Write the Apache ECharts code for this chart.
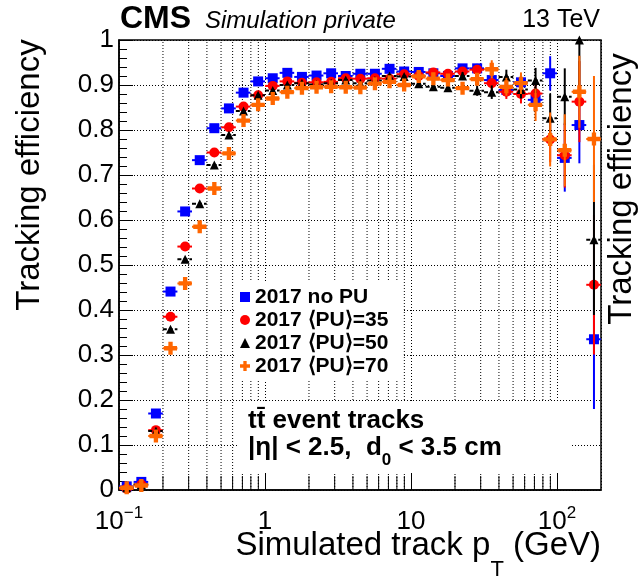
<!DOCTYPE html>
<html><head><meta charset="utf-8">
<script src="https://cdn.jsdelivr.net/npm/echarts@6/dist/echarts.min.js"></script>
<style>html,body{margin:0;padding:0;background:#fff}#c{width:642px;height:577px}</style>
</head><body><div id="c"></div>
<script>
// pT bin edges (GeV)
const ptEdges = [0.1, 0.1259, 0.1585, 0.1995, 0.2512, 0.3162, 0.3981, 0.5012, 0.631, 0.7943,
  1, 1.259, 1.585, 1.995, 2.512, 3.162, 3.981, 5.012, 6.31, 7.943,
  10, 12.59, 15.85, 19.95, 25.12, 31.62, 39.81, 50.12, 63.1, 79.43,
  100, 125.9, 158.5, 199.5];

const seriesNames = ['2017 no PU', '2017 \u27E8PU\u27E9=35', '2017 \u27E8PU\u27E9=50', '2017 \u27E8PU\u27E9=70'];

const effNoPU = [0.008, 0.018, 0.170, 0.441, 0.619, 0.733, 0.804, 0.848, 0.883, 0.908,
  0.915, 0.927, 0.918, 0.921, 0.926, 0.920, 0.925, 0.925, 0.936, 0.930,
  0.929, 0.926, 0.920, 0.937, 0.937, 0.911, 0.889, 0.906, 0.867, 0.926,
  0.738, 0.811, 0.335];
const errNoPU = [0.002, 0.003, 0.004, 0.004, 0.004, 0.003, 0.003, 0.003, 0.003, 0.003,
  0.003, 0.003, 0.003, 0.003, 0.003, 0.003, 0.003, 0.004, 0.004, 0.004,
  0.005, 0.006, 0.007, 0.008, 0.010, 0.012, 0.014, 0.016, 0.020, 0.038,
  0.075, 0.085, 0.155];

const effPU35 = [0.003, 0.012, 0.133, 0.385, 0.541, 0.670, 0.750, 0.806, 0.852, 0.877,
  0.898, 0.908, 0.905, 0.906, 0.907, 0.915, 0.914, 0.915, 0.914, 0.924,
  0.920, 0.928, 0.925, 0.930, 0.934, 0.904, 0.885, 0.880, 0.881, 0.779,
  0.744, 0.863, 0.456];
const errPU35 = [0.002, 0.003, 0.004, 0.004, 0.004, 0.003, 0.003, 0.003, 0.003, 0.003,
  0.003, 0.003, 0.003, 0.003, 0.003, 0.003, 0.003, 0.004, 0.004, 0.004,
  0.005, 0.006, 0.007, 0.008, 0.010, 0.013, 0.016, 0.021, 0.025, 0.050,
  0.072, 0.090, 0.155];

const effPU50 = [0.005, 0.012, 0.131, 0.357, 0.513, 0.636, 0.722, 0.789, 0.842, 0.877,
  0.888, 0.900, 0.904, 0.901, 0.904, 0.911, 0.904, 0.910, 0.920, 0.919,
  0.903, 0.896, 0.894, 0.920, 0.887, 0.884, 0.918, 0.890, 0.910, 0.826,
  0.874, 1.000, 0.556];
const errPU50 = [0.002, 0.003, 0.004, 0.004, 0.004, 0.003, 0.003, 0.003, 0.003, 0.003,
  0.003, 0.003, 0.003, 0.003, 0.003, 0.003, 0.003, 0.004, 0.004, 0.004,
  0.006, 0.007, 0.008, 0.009, 0.011, 0.015, 0.016, 0.020, 0.028, 0.055,
  0.063, 0.120, 0.167];

const effPU70 = [0.005, 0.010, 0.120, 0.315, 0.459, 0.585, 0.670, 0.748, 0.821, 0.856,
  0.870, 0.884, 0.893, 0.895, 0.896, 0.895, 0.894, 0.903, 0.907, 0.900,
  0.919, 0.914, 0.911, 0.893, 0.913, 0.935, 0.896, 0.904, 0.856, 0.779,
  0.755, 0.885, 0.780];
const errPU70 = [0.002, 0.003, 0.004, 0.004, 0.004, 0.003, 0.003, 0.003, 0.003, 0.003,
  0.003, 0.003, 0.003, 0.003, 0.003, 0.003, 0.003, 0.004, 0.004, 0.004,
  0.006, 0.007, 0.008, 0.010, 0.012, 0.020, 0.020, 0.024, 0.036, 0.060,
  0.080, 0.080, 0.140];

// minor x ticks / grid positions (log axis)
const xMinorTicks = [0.2, 0.3, 0.4, 0.5, 0.6, 0.7, 0.8, 0.9,
  2, 3, 4, 5, 6, 7, 8, 9, 20, 30, 40, 50, 60, 70, 80, 90];

const FONT = "'Liberation Sans', Arial, Helvetica, sans-serif";
const colors = ['#0000ff', '#ff0000', '#000000', '#ff6600'];
const crossPath = 'path://M4,0H8V4H12V8H8V12H4V8H0V4H4Z';
const symbols = ['rect', 'circle', 'triangle', crossPath];
const symbolSizes = [10, 10, 9, 13];
const dashes = [null, null, [4, 2], null];
const effs = [effNoPU, effPU35, effPU50, effPU70];
const errs = [errNoPU, errPU35, errPU50, errPU70];

function points(eff, err) {
  return eff.map((v, i) => {
    const lo = ptEdges[i], hi = ptEdges[i + 1];
    return [(lo + hi) / 2, v, lo, hi, Math.max(0, v - err[i]), Math.min(1, v + err[i])];
  });
}

const series = [];
// minor vertical grid lines + minor ticks
series.push({
  type: 'custom', name: 'grid', silent: true, z: 1,
  data: xMinorTicks.map(v => [v, 0]),
  encode: { x: 0, y: 1 },
  renderItem: (params, api) => {
    const v = api.value(0);
    const b = api.coord([v, 0]), t = api.coord([v, 1]);
    return { type: 'group', children: [
      { type: 'line', shape: { x1: b[0], y1: b[1], x2: t[0], y2: t[1] },
        style: { stroke: '#000', lineWidth: 1, lineDash: [1, 2] } },
      { type: 'line', shape: { x1: b[0], y1: b[1], x2: b[0], y2: b[1] - 14 },
        style: { stroke: '#000', lineWidth: 1 } }
    ]};
  }
});

// white text box with the selection description
series.push({
  type: 'custom', name: 'textbox', silent: true, z: 2, clip: false,
  data: [[1, 0.5]], encode: { x: 0, y: 1 },
  renderItem: () => ({ type: 'group', children: [
    { type: 'rect', shape: { x: 238, y: 401, width: 332, height: 72 }, style: { fill: '#fff' } },
    { type: 'text', x: 248, y: 421, style: { text: 'tt\u0304 event tracks', fontSize: 26, fontWeight: 'bold', fontFamily: FONT, fill: '#000', align: 'left', verticalAlign: 'middle' } },
    { type: 'text', x: 248, y: 460, style: {
        text: '{a||\u03B7| < 2.5,  d}{s|0}{a| < 3.5 cm}', align: 'left', verticalAlign: 'middle',
        rich: {
          a: { fontSize: 26, fontWeight: 'bold', lineHeight: 30, verticalAlign: 'top', fontFamily: FONT, fill: '#000' },
          s: { fontSize: 17, fontWeight: 'bold', lineHeight: 50, verticalAlign: 'middle', fontFamily: FONT, fill: '#000' }
        } } }
  ]})
});

effs.forEach((eff, k) => {
  const data = points(eff, errs[k]);
  series.push({
    type: 'custom', name: 'err' + k, silent: true, z: 3 + 2 * k, clip: true,
    data: data, encode: { x: 0, y: 1 },
    renderItem: (params, api) => {
      const x = api.value(0), y = api.value(1);
      const pL = api.coord([api.value(2), y]), pH = api.coord([api.value(3), y]);
      const pB = api.coord([x, api.value(4)]), pT = api.coord([x, api.value(5)]);
      return { type: 'group', children: [
        { type: 'line', shape: { x1: pL[0], y1: pL[1], x2: pH[0], y2: pH[1] },
          style: { stroke: colors[k], lineWidth: 2, lineDash: dashes[k] } },
        { type: 'line', shape: { x1: pB[0], y1: pB[1], x2: pT[0], y2: pT[1] },
          style: { stroke: colors[k], lineWidth: 2 } }
      ]};
    }
  });
  series.push({
    type: 'scatter', name: seriesNames[k], z: 4 + 2 * k, clip: false,
    symbol: symbols[k], symbolSize: symbolSizes[k],
    itemStyle: { color: colors[k], opacity: 1 },
    data: data.map(d => [d[0], d[1]]),
    emphasis: { disabled: true }
  });
});

const option = {
  animation: false,
  backgroundColor: '#fff',
  grid: { left: 119, right: 41, top: 40, bottom: 87, show: true, borderColor: '#000', borderWidth: 1.5, backgroundColor: 'transparent' },
  xAxis: {
    type: 'log', logBase: 10, min: 0.1, max: 200,
    axisLine: { show: true, lineStyle: { color: '#000', width: 1.5 } },
    axisTick: { show: true, inside: true, length: 17, lineStyle: { color: '#000' } },
    splitLine: { show: true, lineStyle: { color: '#000', type: [1, 2], width: 1 } },
    axisLabel: {
      margin: 15, color: '#000', fontFamily: FONT, showMaxLabel: false,
      formatter: v => {
        const e = Math.round(Math.log10(v) * 1000) / 1000;
        if (e === -1) return '{b|10}{s|\u22121}';
        if (e === 0) return '{b|1}';
        if (e === 1) return '{b|10}';
        if (e === 2) return '{b|10}{s|2}';
        return '';
      },
      rich: {
        b: { fontSize: 26, lineHeight: 30, verticalAlign: 'bottom', fontFamily: FONT, color: '#000' },
        s: { fontSize: 17, lineHeight: 8, verticalAlign: 'top', fontFamily: FONT, color: '#000' }
      }
    }
  },
  yAxis: {
    type: 'value', min: 0, max: 1, interval: 0.1,
    axisLine: { show: true, lineStyle: { color: '#000', width: 1.5 } },
    axisTick: { show: true, inside: true, length: 14, lineStyle: { color: '#000' } },
    minorTick: { show: true, splitNumber: 5, length: 8, lineStyle: { color: '#000' } },
    splitLine: { show: true, lineStyle: { color: '#000', type: [1, 2], width: 1 } },
    axisLabel: {
      margin: 5, fontSize: 26, color: '#000', fontFamily: FONT,
      formatter: v => (v === 0 ? '0' : v === 1 ? '1' : String(+v.toFixed(1)))
    }
  },
  legend: {
    orient: 'vertical', left: 236, top: 282, z: 5,
    itemWidth: 10, itemHeight: 10, itemGap: 1,
    padding: [4, 14, 4, 4], backgroundColor: '#fff', selectedMode: false,
    textStyle: { fontSize: 21, fontWeight: 'bold', fontFamily: FONT, color: '#000', lineHeight: 22 },
    data: seriesNames.map((n, i) => ({ name: n, icon: symbols[i] }))
  },
  graphic: [
    { type: 'text', z: 20, x: 120, y: 19, style: { text: 'CMS', fontSize: 32, fontWeight: 'bold', fontFamily: FONT, fill: '#000', align: 'left', verticalAlign: 'middle' } },
    { type: 'text', z: 20, x: 205, y: 21, style: { text: 'Simulation private', fontSize: 24, fontStyle: 'italic', fontFamily: FONT, fill: '#000', align: 'left', verticalAlign: 'middle' } },
    { type: 'text', z: 20, x: 600, y: 20, style: { text: '13 TeV', fontSize: 25, fontFamily: FONT, fill: '#000', align: 'right', verticalAlign: 'middle' } },
    { type: 'text', z: 20, x: 30, y: 175, rotation: Math.PI / 2, style: { text: 'Tracking efficiency', fontSize: 33, fontFamily: FONT, fill: '#000', align: 'center', verticalAlign: 'middle' } },
    { type: 'text', z: 20, x: 622, y: 189, rotation: Math.PI / 2, style: { text: 'Tracking efficiency', fontSize: 33, fontFamily: FONT, fill: '#000', align: 'center', verticalAlign: 'middle' } },
    { type: 'text', z: 20, x: 601, y: 529, style: {
        text: '{a|Simulated track p}{s|T}{a| (GeV)}', align: 'right', verticalAlign: 'top',
        rich: {
          a: { fontSize: 33, lineHeight: 40, verticalAlign: 'top', fontFamily: FONT, fill: '#000' },
          s: { fontSize: 22, lineHeight: 82, verticalAlign: 'middle', fontFamily: FONT, fill: '#000' }
        } } }
  ],
  series: series
};

const chart = echarts.init(document.getElementById('c'), null, { renderer: 'canvas' });
chart.setOption(option);
</script>
</body></html>
